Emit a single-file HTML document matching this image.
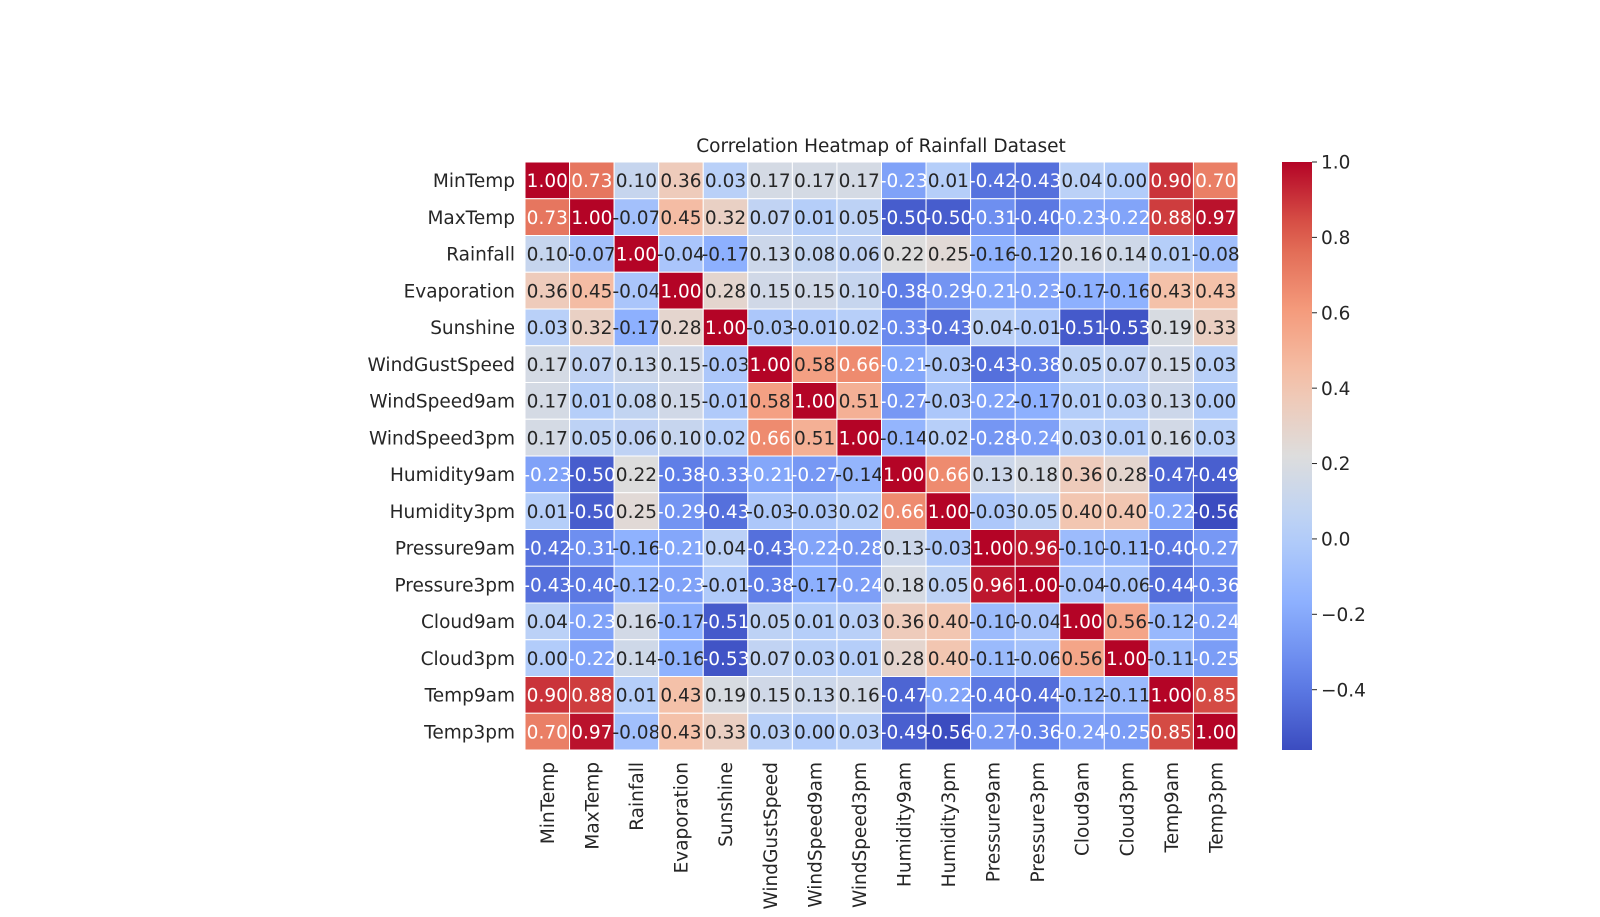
<!DOCTYPE html>
<html><head><meta charset="utf-8"><style>
html,body{margin:0;padding:0;background:#fff;}
svg{display:block;font-family:"DejaVu Sans","Liberation Sans",sans-serif;}
</style></head><body>
<svg id="chart" width="1600" height="917" viewBox="0 0 1600 917" xmlns="http://www.w3.org/2000/svg">
<text x="881" y="152" font-size="18.5" text-anchor="middle" fill="#222">Correlation Heatmap of Rainfall Dataset</text>
<g id="cells"></g><g id="ylabels"></g><g id="xlabels"></g>
<defs><linearGradient id="cbgrad" x1="0" y1="1" x2="0" y2="0"></linearGradient></defs>
<g id="colorbar"></g>
</svg>
<script>
const labels = ["MinTemp","MaxTemp","Rainfall","Evaporation","Sunshine","WindGustSpeed","WindSpeed9am","WindSpeed3pm","Humidity9am","Humidity3pm","Pressure9am","Pressure3pm","Cloud9am","Cloud3pm","Temp9am","Temp3pm"];
const r0 = [1.00,0.73,0.10,0.36,0.03,0.17,0.17,0.17,-0.23,0.01,-0.42,-0.43,0.04,0.00,0.90,0.70];
const r1 = [0.73,1.00,-0.07,0.45,0.32,0.07,0.01,0.05,-0.50,-0.50,-0.31,-0.40,-0.23,-0.22,0.88,0.97];
const r2 = [0.10,-0.07,1.00,-0.04,-0.17,0.13,0.08,0.06,0.22,0.25,-0.16,-0.12,0.16,0.14,0.01,-0.08];
const r3 = [0.36,0.45,-0.04,1.00,0.28,0.15,0.15,0.10,-0.38,-0.29,-0.21,-0.23,-0.17,-0.16,0.43,0.43];
const r4 = [0.03,0.32,-0.17,0.28,1.00,-0.03,-0.01,0.02,-0.33,-0.43,0.04,-0.01,-0.51,-0.53,0.19,0.33];
const r5 = [0.17,0.07,0.13,0.15,-0.03,1.00,0.58,0.66,-0.21,-0.03,-0.43,-0.38,0.05,0.07,0.15,0.03];
const r6 = [0.17,0.01,0.08,0.15,-0.01,0.58,1.00,0.51,-0.27,-0.03,-0.22,-0.17,0.01,0.03,0.13,0.00];
const r7 = [0.17,0.05,0.06,0.10,0.02,0.66,0.51,1.00,-0.14,0.02,-0.28,-0.24,0.03,0.01,0.16,0.03];
const r8 = [-0.23,-0.50,0.22,-0.38,-0.33,-0.21,-0.27,-0.14,1.00,0.66,0.13,0.18,0.36,0.28,-0.47,-0.49];
const r9 = [0.01,-0.50,0.25,-0.29,-0.43,-0.03,-0.03,0.02,0.66,1.00,-0.03,0.05,0.40,0.40,-0.22,-0.56];
const r10 = [-0.42,-0.31,-0.16,-0.21,0.04,-0.43,-0.22,-0.28,0.13,-0.03,1.00,0.96,-0.10,-0.11,-0.40,-0.27];
const r11 = [-0.43,-0.40,-0.12,-0.23,-0.01,-0.38,-0.17,-0.24,0.18,0.05,0.96,1.00,-0.04,-0.06,-0.44,-0.36];
const r12 = [0.04,-0.23,0.16,-0.17,-0.51,0.05,0.01,0.03,0.36,0.40,-0.10,-0.04,1.00,0.56,-0.12,-0.24];
const r13 = [0.00,-0.22,0.14,-0.16,-0.53,0.07,0.03,0.01,0.28,0.40,-0.11,-0.06,0.56,1.00,-0.11,-0.25];
const r14 = [0.90,0.88,0.01,0.43,0.19,0.15,0.13,0.16,-0.47,-0.22,-0.40,-0.44,-0.12,-0.11,1.00,0.85];
const r15 = [0.70,0.97,-0.08,0.43,0.33,0.03,0.00,0.03,-0.49,-0.56,-0.27,-0.36,-0.24,-0.25,0.85,1.00];
const rows = [r0,r1,r2,r3,r4,r5,r6,r7,r8,r9,r10,r11,r12,r13,r14,r15];
const cbTicks = [1.0,0.8,0.6,0.4,0.2,0.0,-0.2,-0.4];

const NS="http://www.w3.org/2000/svg";
const X0=525,Y0=162,X1=1238,Y1=750;
const FS=18.5;
const n=labels.length, cw=(X1-X0)/n, ch=(Y1-Y0)/n;
let vmin=Infinity,vmax=-Infinity;
rows.forEach(r=>r.forEach(v=>{vmin=Math.min(vmin,v);vmax=Math.max(vmax,v);}));
const stops=[[0,[59,76,192]],[0.125,[98,130,234]],[0.25,[141,176,254]],[0.375,[184,208,249]],[0.5,[221,221,221]],[0.625,[244,196,173]],[0.75,[244,154,123]],[0.875,[222,96,77]],[1,[180,4,38]]];
function cmap(t){t=Math.max(0,Math.min(1,t));for(let i=1;i<stops.length;i++){if(t<=stops[i][0]){const a=stops[i-1],b=stops[i];const f=(t-a[0])/(b[0]-a[0]);return a[1].map((c,k)=>Math.round(c+(b[1][k]-c)*f));}}return stops[stops.length-1][1];}
const norm=v=>(v-vmin)/(vmax-vmin);
function relLum(c){const l=c.map(x=>{x/=255;return x<=0.03928?x/12.92:Math.pow((x+0.055)/1.055,2.4);});return 0.2126*l[0]+0.7152*l[1]+0.0722*l[2];}
function mk(tag,attrs,parent){const e=document.createElementNS(NS,tag);for(const k in attrs)e.setAttribute(k,attrs[k]);parent.appendChild(e);return e;}
const gc=document.getElementById('cells');
rows.forEach((r,i)=>r.forEach((v,j)=>{
  const c=cmap(norm(v));
  const rect=mk('rect',{x:X0+j*cw,y:Y0+i*ch,width:cw,height:ch,fill:`rgb(${c})`,stroke:'#fff','stroke-width':1},gc);
  
  
  const t=mk('text',{x:X0+j*cw+cw/2,y:Y0+i*ch+ch/2+6.7,'font-size':FS,'text-anchor':'middle',fill:relLum(c)<0.408?'#fff':'#262626'},gc);
  t.textContent=v.toFixed(2);
  
  
}));
const gy=document.getElementById('ylabels'),gx=document.getElementById('xlabels');
labels.forEach((l,i)=>{
  const t=mk('text',{x:X0-10,y:Y0+i*ch+ch/2+6.7,'font-size':FS,'text-anchor':'end',fill:'#262626'},gy);
  t.textContent=l;
  
  
  const cx=X0+i*cw+cw/2+6.7, cy=Y1+12;
  const u=mk('text',{x:cx,y:cy,'font-size':FS,'text-anchor':'end',fill:'#262626',transform:`rotate(-90 ${cx} ${cy})`},gx);
  u.textContent=l;
  
  
});
const grad=document.getElementById('cbgrad');
for(let k=0;k<=20;k++){const c=cmap(k/20);mk('stop',{offset:(k/20),'stop-color':`rgb(${c})`},grad);}
const gcb=document.getElementById('colorbar');
const CBX=1282,CBW=30;
const cbr=mk('rect',{x:CBX,y:Y0,width:CBW,height:Y1-Y0,fill:'url(#cbgrad)'},gcb);


cbTicks.forEach(v=>{
  const y=Y1-(v-vmin)/(vmax-vmin)*(Y1-Y0);
  mk('line',{x1:CBX+CBW,x2:CBX+CBW+5,y1:y,y2:y,stroke:'#262626','stroke-width':1},gcb);
  const t=mk('text',{x:CBX+CBW+9,y:y+6.7,'font-size':FS,fill:'#262626'},gcb);
  t.textContent=(v<0?'\u2212'+Math.abs(v).toFixed(1):v.toFixed(1));
  
  
});
</script>
</body></html>
